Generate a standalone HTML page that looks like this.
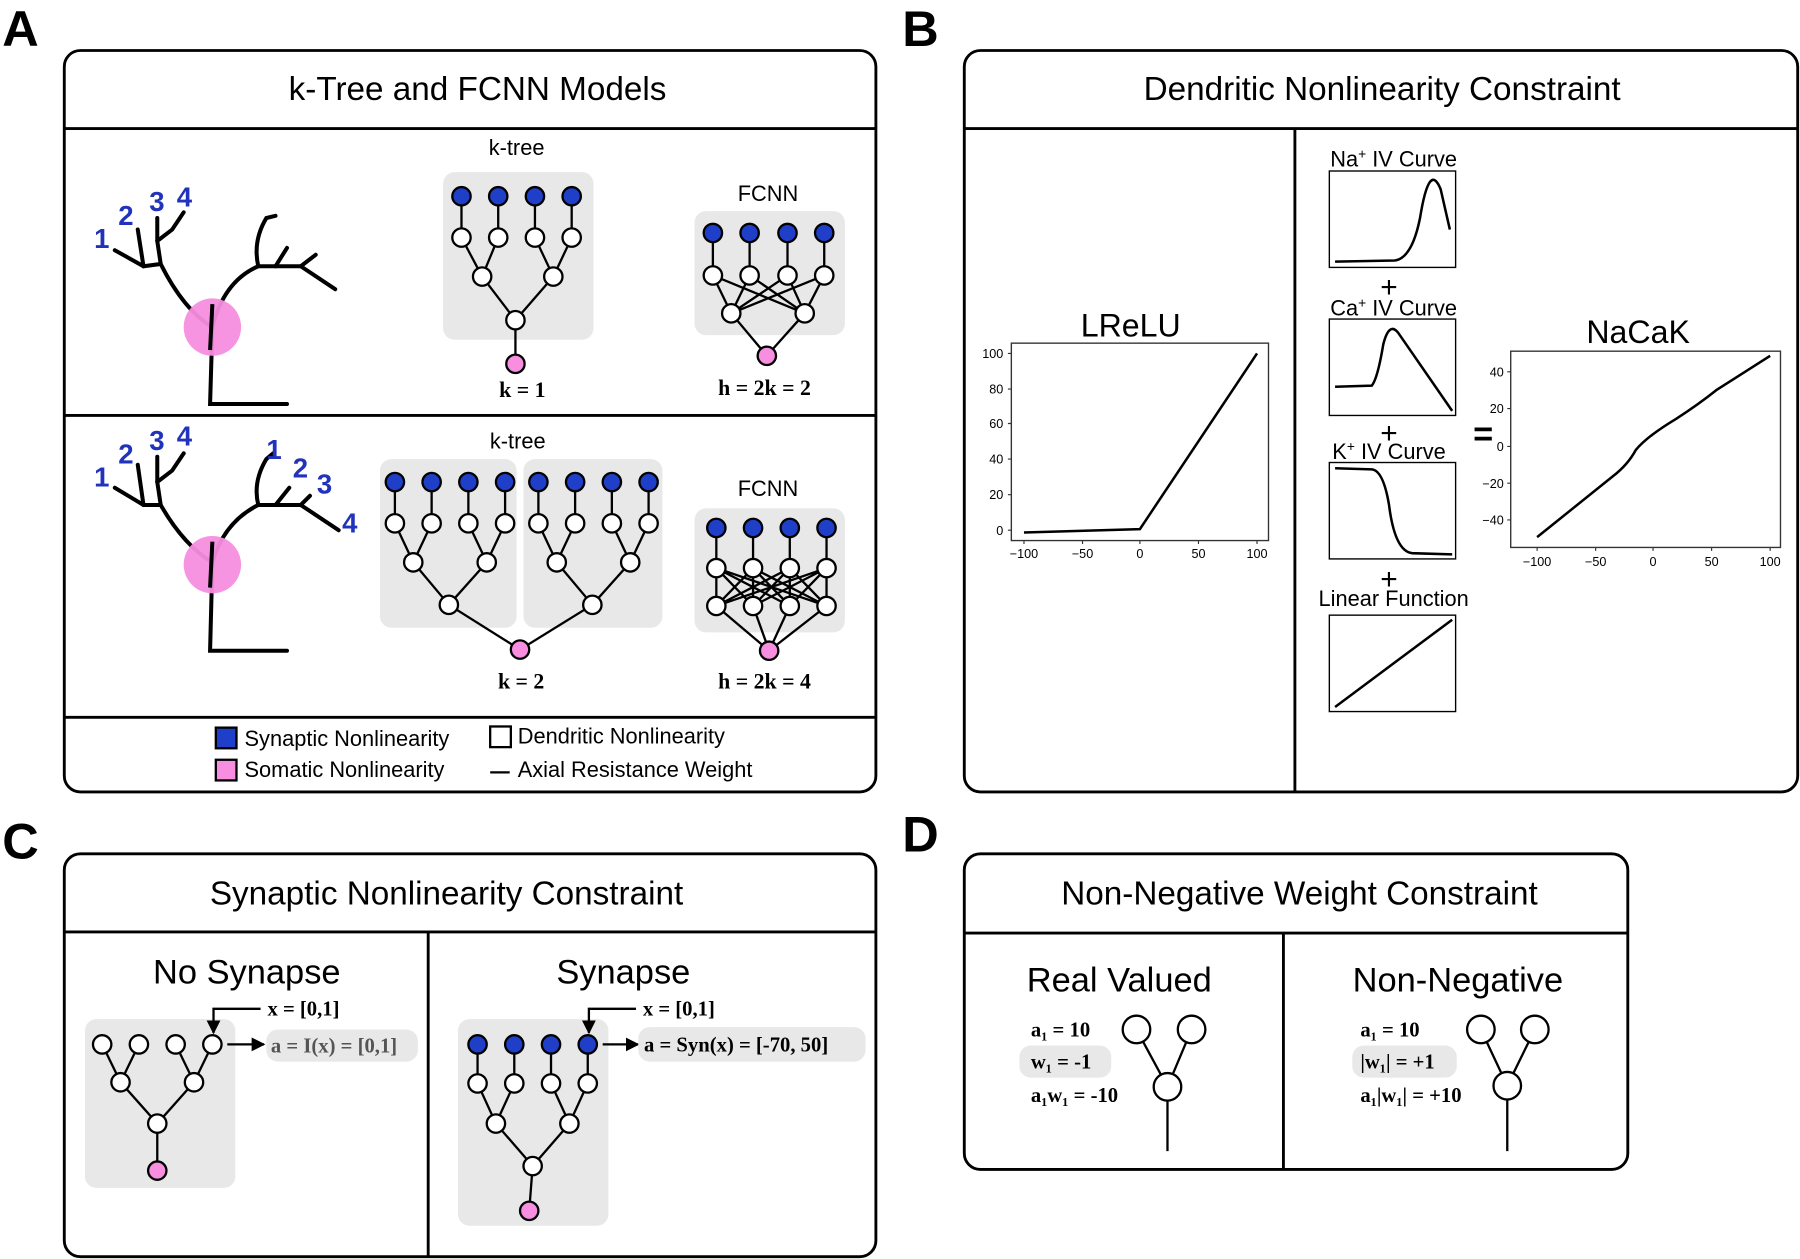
<!DOCTYPE html>
<html><head><meta charset="utf-8"><style>
html,body{margin:0;padding:0;background:#fff;}
svg{display:block;}
text{font-family:"Liberation Sans",sans-serif;fill:#000;}
.s{font-family:"Liberation Serif",serif;font-weight:bold;}
.n{fill:#2233bb;font-weight:bold;font-size:24px;}
.t{font-size:11px;fill:#222;}
</style></head><body>
<svg width="1800" height="1259" viewBox="0 0 1568 1097" preserveAspectRatio="none" xmlns="http://www.w3.org/2000/svg">
<defs>
<g id="b"><circle r="8" fill="#1f3fc8" stroke="#000" stroke-width="2"/></g>
<g id="w"><circle r="8" fill="#fff" stroke="#000" stroke-width="2"/></g>
<g id="p"><circle r="8" fill="#f78ee0" stroke="#000" stroke-width="2"/></g>
<marker id="ar" viewBox="0 0 10 10" refX="9" refY="5" markerWidth="6" markerHeight="6" orient="auto"><path d="M0,0L10,5L0,10z" fill="#000"/></marker>
</defs>
<g font-weight="bold" font-size="44"><text x="2" y="40">A</text><text x="786" y="40">B</text><text x="2" y="748">C</text><text x="786" y="742">D</text></g>
<g fill="none" stroke="#000" stroke-width="2.5">
<rect x="56" y="44" width="707" height="646" rx="14"/><line x1="56" y1="112" x2="763" y2="112"/><line x1="56" y1="362" x2="763" y2="362"/><line x1="56" y1="625" x2="763" y2="625"/>
<rect x="840" y="44" width="726" height="646" rx="14"/><line x1="840" y1="112" x2="1566" y2="112"/><line x1="1128" y1="112" x2="1128" y2="690"/>
<rect x="56" y="744" width="707" height="351" rx="14"/><line x1="56" y1="812" x2="763" y2="812"/><line x1="373" y1="812" x2="373" y2="1095"/>
<rect x="840" y="744" width="578" height="275" rx="14"/><line x1="840" y1="813" x2="1418" y2="813"/><line x1="1118" y1="813" x2="1118" y2="1019"/>
</g>
<g font-size="29" text-anchor="middle"><text x="416" y="87">k-Tree and FCNN Models</text><text x="1204" y="87">Dendritic Nonlinearity Constraint</text><text x="389" y="788">Synaptic Nonlinearity Constraint</text><text x="1132" y="788">Non-Negative Weight Constraint</text></g>

<g fill="none" stroke="#000" stroke-width="3.5" stroke-linecap="round">
<path d="M185 285 L183 352 L250 352"/><path d="M185 285 Q160 270 140 230 L125 232 L100 218"/><path d="M125 232 L120 200"/><path d="M140 230 L137 210 L150 200 L160 185"/><path d="M137 210 L137 190"/><path d="M185 285 Q195 245 225 232 L262 232 L292 252"/><path d="M225 232 Q220 210 232 190 L240 188"/><path d="M240 232 L250 216"/><path d="M262 232 L275 222"/>
</g>
<circle cx="185" cy="285" r="25" fill="#f78ee0" opacity="0.95"/>
<path d="M185 265 L183 305" stroke="#000" stroke-width="3.5"/>
<text class="n" x="82" y="216">1</text><text class="n" x="103" y="196">2</text><text class="n" x="130" y="184">3</text><text class="n" x="154" y="180">4</text>
<g fill="none" stroke="#000" stroke-width="3.5" stroke-linecap="round">
<path d="M185 490 L183 567 L250 567"/><path d="M185 490 Q160 475 140 440 L125 440 L100 425"/><path d="M125 440 L120 405"/><path d="M140 440 L137 420 L150 410 L160 395"/><path d="M137 420 L137 398"/><path d="M185 490 Q195 455 225 440 L262 440 L295 462"/><path d="M225 440 Q220 420 232 400 L238 395"/><path d="M240 440 L252 425"/><path d="M262 440 L270 432"/>
</g>
<circle cx="185" cy="492" r="25" fill="#f78ee0" opacity="0.95"/>
<path d="M185 472 L183 512" stroke="#000" stroke-width="3.5"/>
<text class="n" x="82" y="424">1</text><text class="n" x="103" y="404">2</text><text class="n" x="130" y="392">3</text><text class="n" x="154" y="388">4</text>
<text class="n" x="232" y="400">1</text><text class="n" x="255" y="416">2</text><text class="n" x="276" y="430">3</text><text class="n" x="298" y="464">4</text>

<rect x="386" y="150" width="131" height="146" rx="10" fill="#e8e8e8"/>
<g stroke="#000" stroke-width="2" fill="none"><path d="M402 171V207L420 241M434 171V207L420 241M466 171V207L482 241M498 171V207L482 241M420 241L449 279M482 241L449 279M449 279V317"/></g>
<use href="#b" x="402" y="171"/><use href="#b" x="434" y="171"/><use href="#b" x="466" y="171"/><use href="#b" x="498" y="171"/>
<use href="#w" x="402" y="207"/><use href="#w" x="434" y="207"/><use href="#w" x="466" y="207"/><use href="#w" x="498" y="207"/>
<use href="#w" x="420" y="241"/><use href="#w" x="482" y="241"/><use href="#w" x="449" y="279"/><use href="#p" x="449" y="317"/>
<text x="450" y="135" font-size="19" text-anchor="middle">k-tree</text>
<text class="s" x="455" y="346" font-size="19" text-anchor="middle">k = 1</text>
<rect x="605" y="184" width="131" height="108" rx="10" fill="#e8e8e8"/>
<g stroke="#000" stroke-width="2"><path d="M621 203V240M653 203V240M686 203V240M718 203V240M621 240L637 273M653 240L637 273M686 240L637 273M718 240L637 273M621 240L701 273M653 240L701 273M686 240L701 273M718 240L701 273M637 273L668 310M701 273L668 310"/></g>
<use href="#b" x="621" y="203"/><use href="#b" x="653" y="203"/><use href="#b" x="686" y="203"/><use href="#b" x="718" y="203"/>
<use href="#w" x="621" y="240"/><use href="#w" x="653" y="240"/><use href="#w" x="686" y="240"/><use href="#w" x="718" y="240"/>
<use href="#w" x="637" y="273"/><use href="#w" x="701" y="273"/><use href="#p" x="668" y="310"/>
<text x="669" y="175" font-size="19" text-anchor="middle">FCNN</text>
<text class="s" x="666" y="344" font-size="19" text-anchor="middle">h = 2k = 2</text>

<rect x="331" y="400" width="119" height="147" rx="10" fill="#e8e8e8"/><rect x="456" y="400" width="121" height="147" rx="10" fill="#e8e8e8"/>
<g stroke="#000" stroke-width="2" fill="none"><path d="M344 420V456L360 490M376 420V456L360 490M408 420V456L424 490M440 420V456L424 490M360 490L391 527M424 490L391 527M469 420V456L485 490M501 420V456L485 490M533 420V456L549 490M565 420V456L549 490M485 490L516 527M549 490L516 527M391 527L453 566M516 527L453 566"/></g>
<g><use href="#b" x="344" y="420"/><use href="#b" x="376" y="420"/><use href="#b" x="408" y="420"/><use href="#b" x="440" y="420"/><use href="#b" x="469" y="420"/><use href="#b" x="501" y="420"/><use href="#b" x="533" y="420"/><use href="#b" x="565" y="420"/>
<use href="#w" x="344" y="456"/><use href="#w" x="376" y="456"/><use href="#w" x="408" y="456"/><use href="#w" x="440" y="456"/><use href="#w" x="469" y="456"/><use href="#w" x="501" y="456"/><use href="#w" x="533" y="456"/><use href="#w" x="565" y="456"/>
<use href="#w" x="360" y="490"/><use href="#w" x="424" y="490"/><use href="#w" x="485" y="490"/><use href="#w" x="549" y="490"/><use href="#w" x="391" y="527"/><use href="#w" x="516" y="527"/><use href="#p" x="453" y="566"/></g>
<text x="451" y="391" font-size="19" text-anchor="middle">k-tree</text>
<text class="s" x="454" y="600" font-size="19" text-anchor="middle">k = 2</text>
<rect x="605" y="443" width="131" height="108" rx="10" fill="#e8e8e8"/>
<g stroke="#000" stroke-width="2"><path d="M624 460V528M656 460V528M688 460V528M720 460V528
M624 495L656 528M624 495L688 528M624 495L720 528M656 495L624 528M656 495L688 528M656 495L720 528M688 495L624 528M688 495L656 528M688 495L720 528M720 495L624 528M720 495L656 528M720 495L688 528
M624 528L670 567M656 528L670 567M688 528L670 567M720 528L670 567"/></g>
<use href="#b" x="624" y="460"/><use href="#b" x="656" y="460"/><use href="#b" x="688" y="460"/><use href="#b" x="720" y="460"/>
<use href="#w" x="624" y="495"/><use href="#w" x="656" y="495"/><use href="#w" x="688" y="495"/><use href="#w" x="720" y="495"/>
<use href="#w" x="624" y="528"/><use href="#w" x="656" y="528"/><use href="#w" x="688" y="528"/><use href="#w" x="720" y="528"/><use href="#p" x="670" y="567"/>
<text x="669" y="432" font-size="19" text-anchor="middle">FCNN</text>
<text class="s" x="666" y="600" font-size="19" text-anchor="middle">h = 2k = 4</text>
<rect x="188" y="634" width="18" height="18" fill="#1f3fc8" stroke="#000" stroke-width="2"/><text x="213" y="650" font-size="19">Synaptic Nonlinearity</text>
<rect x="427" y="633" width="18" height="18" fill="#fff" stroke="#000" stroke-width="2"/><text x="451" y="648" font-size="19">Dendritic Nonlinearity</text>
<rect x="188" y="662" width="18" height="18" fill="#f78ee0" stroke="#000" stroke-width="2"/><text x="213" y="677" font-size="19">Somatic Nonlinearity</text>
<line x1="427" y1="673" x2="444" y2="673" stroke="#000" stroke-width="2"/><text x="451" y="677" font-size="19">Axial Resistance Weight</text>

<!-- LReLU -->
<text x="985" y="293" font-size="28" text-anchor="middle">LReLU</text>
<rect x="881" y="299" width="224" height="172" fill="none" stroke="#333" stroke-width="1.2"/>
<polyline points="892,464 993,461 1095,308" fill="none" stroke="#000" stroke-width="2.2"/>
<g class="t" text-anchor="end"><text x="874" y="312">100</text><text x="874" y="343">80</text><text x="874" y="373">60</text><text x="874" y="404">40</text><text x="874" y="435">20</text><text x="874" y="466">0</text></g>
<g stroke="#333"><path d="M881 308h-3M881 339h-3M881 369h-3M881 400h-3M881 431h-3M881 462h-3M892 471v3M943 471v3M993 471v3M1044 471v3M1095 471v3"/></g>
<g class="t" text-anchor="middle"><text x="892" y="486">−100</text><text x="943" y="486">−50</text><text x="993" y="486">0</text><text x="1044" y="486">50</text><text x="1095" y="486">100</text></g>

<g fill="none" stroke="#000" stroke-width="1.2"><rect x="1158" y="149" width="110" height="84"/><rect x="1158" y="278" width="110" height="84"/><rect x="1158" y="403" width="110" height="84"/><rect x="1158" y="536" width="110" height="84"/></g>
<g fill="none" stroke="#000" stroke-width="2.2">
<path d="M1163 228 L1215 227 Q1230 225 1237 190 Q1245 140 1255 165 L1263 200"/>
<path d="M1163 337 L1195 336 Q1200 330 1205 300 Q1210 280 1218 290 L1265 358"/>
<path d="M1163 408 L1195 409 Q1205 410 1210 440 Q1215 480 1230 482 L1265 483"/>
<path d="M1163 616 L1265 540"/>
</g>
<g font-size="19" text-anchor="middle"><text x="1214" y="145">Na<tspan dy="-7" font-size="12">+</tspan><tspan dy="7"> IV Curve</tspan></text><text x="1214" y="275">Ca<tspan dy="-7" font-size="12">+</tspan><tspan dy="7"> IV Curve</tspan></text><text x="1210" y="400">K<tspan dy="-7" font-size="12">+</tspan><tspan dy="7"> IV Curve</tspan></text><text x="1214" y="528">Linear Function</text></g>
<g font-size="26" text-anchor="middle"><text x="1210" y="259">+</text><text x="1210" y="386">+</text><text x="1210" y="513">+</text></g>
<text x="1292" y="388" font-size="30" font-weight="bold" text-anchor="middle">=</text>
<!-- NaCaK -->
<text x="1427" y="299" font-size="28" text-anchor="middle">NaCaK</text>
<rect x="1316" y="306" width="235" height="171" fill="none" stroke="#333" stroke-width="1.2"/>
<path d="M1339 468 L1405 415 Q1418 405 1425 392 Q1435 380 1460 365 Q1480 352 1495 340 L1542 310" fill="none" stroke="#000" stroke-width="2.2"/>
<g class="t" text-anchor="end"><text x="1310" y="328">40</text><text x="1310" y="360">20</text><text x="1310" y="393">0</text><text x="1310" y="425">−20</text><text x="1310" y="457">−40</text></g>
<g stroke="#333"><path d="M1316 324h-3M1316 356h-3M1316 389h-3M1316 421h-3M1316 453h-3M1339 477v3M1390 477v3M1440 477v3M1491 477v3M1542 477v3"/></g>
<g class="t" text-anchor="middle"><text x="1339" y="493">−100</text><text x="1390" y="493">−50</text><text x="1440" y="493">0</text><text x="1491" y="493">50</text><text x="1542" y="493">100</text></g>

<text x="215" y="857" font-size="30" text-anchor="middle">No Synapse</text>
<rect x="74" y="888" width="131" height="147" rx="10" fill="#e8e8e8"/>
<g stroke="#000" stroke-width="2" fill="none"><path d="M89 910L105 943M121 910L105 943M153 910L169 943M185 910L169 943M105 943L137 979M169 943L137 979M137 979V1020"/></g>
<use href="#w" x="89" y="910"/><use href="#w" x="121" y="910"/><use href="#w" x="153" y="910"/><use href="#w" x="185" y="910"/><use href="#w" x="105" y="943"/><use href="#w" x="169" y="943"/><use href="#w" x="137" y="979"/><use href="#p" x="137" y="1020"/>
<path d="M227 879H186V900" fill="none" stroke="#000" stroke-width="2" marker-end="url(#ar)"/>
<path d="M198 910H230" stroke="#000" stroke-width="2" marker-end="url(#ar)"/>
<text class="s" x="233" y="885" font-size="18">x = [0,1]</text>
<rect x="232" y="897" width="132" height="28" rx="10" fill="#e8e8e8"/>
<text class="s" x="236" y="917" font-size="18" style="fill:#555">a = I(x) = [0,1]</text>

<text x="543" y="857" font-size="30" text-anchor="middle">Synapse</text>
<rect x="399" y="888" width="131" height="180" rx="10" fill="#e8e8e8"/>
<g stroke="#000" stroke-width="2" fill="none"><path d="M416 910V944L432 979M448 910V944L432 979M480 910V944L496 979M512 910V944L496 979M432 979L464 1016M496 979L464 1016M464 1016L461 1055"/></g>
<use href="#b" x="416" y="910"/><use href="#b" x="448" y="910"/><use href="#b" x="480" y="910"/><use href="#b" x="512" y="910"/>
<use href="#w" x="416" y="944"/><use href="#w" x="448" y="944"/><use href="#w" x="480" y="944"/><use href="#w" x="512" y="944"/>
<use href="#w" x="432" y="979"/><use href="#w" x="496" y="979"/><use href="#w" x="464" y="1016"/><use href="#p" x="461" y="1055"/>
<path d="M554 879H513V900" fill="none" stroke="#000" stroke-width="2" marker-end="url(#ar)"/>
<path d="M525 910H556" stroke="#000" stroke-width="2" marker-end="url(#ar)"/>
<text class="s" x="560" y="885" font-size="18">x = [0,1]</text>
<rect x="556" y="895" width="198" height="30" rx="10" fill="#e8e8e8"/>
<text class="s" x="561" y="916" font-size="18">a = Syn(x) = [-70, 50]</text>

<text x="975" y="864" font-size="30" text-anchor="middle">Real Valued</text>
<g stroke="#000" stroke-width="2" fill="#fff"><path d="M990 897L1017 947M1038 897L1017 947M1017 947V1003"/><circle cx="990" cy="897" r="12"/><circle cx="1038" cy="897" r="12"/><circle cx="1017" cy="947" r="12"/></g>
<text class="s" x="898" y="903" font-size="18">a₁ = 10</text>
<rect x="888" y="911" width="80" height="28" rx="10" fill="#e8e8e8"/>
<text class="s" x="898" y="931" font-size="18">w₁ = -1</text>
<text class="s" x="898" y="960" font-size="18">a₁w₁ = -10</text>
<text x="1270" y="864" font-size="30" text-anchor="middle">Non-Negative</text>
<g stroke="#000" stroke-width="2" fill="#fff"><path d="M1290 897L1313 946M1337 897L1313 946M1313 946V1003"/><circle cx="1290" cy="897" r="12"/><circle cx="1337" cy="897" r="12"/><circle cx="1313" cy="946" r="12"/></g>
<text class="s" x="1185" y="903" font-size="18">a₁ = 10</text>
<rect x="1178" y="911" width="91" height="28" rx="10" fill="#e8e8e8"/>
<text class="s" x="1185" y="931" font-size="18">|w₁| = +1</text>
<text class="s" x="1185" y="960" font-size="18">a₁|w₁| = +10</text>
</svg>
</body></html>
